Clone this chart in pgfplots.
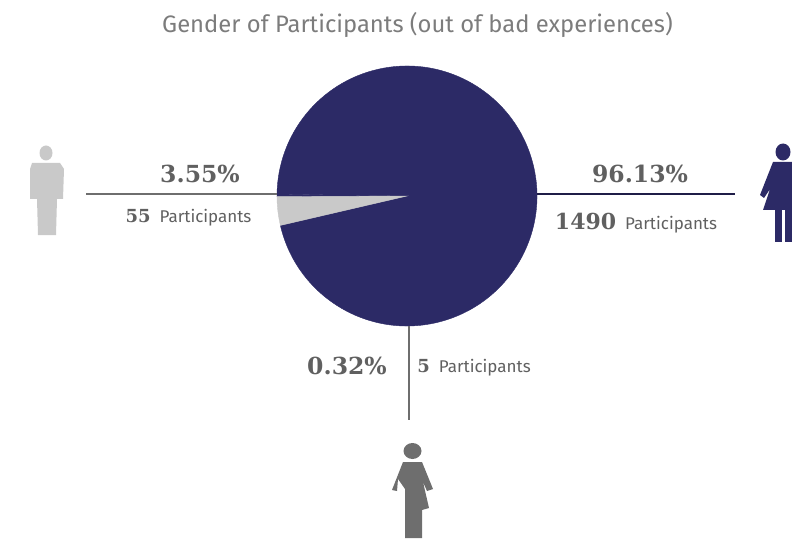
\documentclass[border=0pt]{standalone}
\usepackage{pgfplots}
\pgfplotsset{compat=1.18}
\usepackage{fontspec}
\setmainfont{Fira Sans}
\newfontfamily\numfont{DejaVu Serif}
\definecolor{navy}{HTML}{2C2A66}
\definecolor{lightgrey}{HTML}{C9C9C9}
\definecolor{midgrey}{HTML}{6E6E6E}
\definecolor{textgrey}{HTML}{606060}
\definecolor{titlegrey}{HTML}{7C7C7C}
\newcommand{\pct}[1]{{\fontsize{23.5}{23.5}\selectfont\numfont\bfseries #1}}
\newcommand{\cnt}[3]{{\fontsize{#1}{#1}\selectfont\numfont\bfseries #2}\hspace{9pt}{\fontsize{17}{17}\selectfont #3}}
% pie slice: start angle, share in percent, colour
\newcommand{\slice}[3]{%
  \path[fill=#3, draw=#3, line width=0.4pt] (axis cs:407,343) -- ++(#1:130pt) arc[start angle=#1, delta angle={3.6*#2}, radius=130pt] -- cycle;}
\begin{document}
\begin{tikzpicture}
\begin{axis}[
  width=792pt, height=539pt, scale only axis,
  xmin=0, xmax=792, ymin=0, ymax=539,
  hide axis, clip=false]
\path (axis cs:0,0) rectangle (axis cs:792,539);
% shares: 0.32 other, 96.13 women, 3.55 men
\slice{179.15}{0.32}{navy}
\slice{193.08}{96.13}{navy}
\slice{180.3}{3.55}{lightgrey}
% leader lines
\addplot[midgrey, line width=1.5pt] coordinates {(86,345) (277,345)};
\addplot[navy!70!black, line width=1.7pt] coordinates {(537,345) (735,345)};
\addplot[midgrey, line width=2pt] coordinates {(408.5,213) (408.5,119)};
% title and labels
\node[text=titlegrey, font=\fontsize{23.8}{23.8}\selectfont] at (axis cs:417.5,514) {Gender of Participants (out of bad experiences)};
\node[text=textgrey] at (axis cs:200,365) {\pct{3.55\%}};
\node[text=textgrey] at (axis cs:188.5,321) {\cnt{18}{55}{Participants}};
\node[text=textgrey] at (axis cs:640,365) {\pct{96.13\%}};
\node[text=textgrey] at (axis cs:636,316) {\cnt{22}{1490}{Participants}};
\node[text=textgrey] at (axis cs:347,173) {\pct{0.32\%}};
\node[text=textgrey] at (axis cs:474,171) {\cnt{18}{5}{Participants}};
% male figure
\fill[lightgrey] (axis cs:46,386) ellipse[x radius=6.5pt, y radius=7.5pt];
\fill[lightgrey] (axis cs:32,376) -- (axis cs:60,376) -- (axis cs:64,370) -- (axis cs:63,340) -- (axis cs:57,340) -- (axis cs:56,304) -- (axis cs:38,304) -- (axis cs:37,340) -- (axis cs:30,340) -- (axis cs:30,370) -- cycle;
% female figure
\fill[navy] (axis cs:783,387) ellipse[x radius=7.5pt, y radius=8.5pt];
\fill[navy] (axis cs:773,377) -- (axis cs:792,377) -- (axis cs:792,329) -- (axis cs:763,329) -- (axis cs:770,350) -- (axis cs:764,341) -- (axis cs:760,344) -- cycle;
\fill[navy] (axis cs:775,329) rectangle (axis cs:782,297);
\fill[navy] (axis cs:785,329) rectangle (axis cs:792,297);
% other figure
\fill[midgrey] (axis cs:412.5,88) ellipse[x radius=9pt, y radius=8pt];
\fill[midgrey] (axis cs:403,77) -- (axis cs:422,77) -- (axis cs:433,50) -- (axis cs:427,48) -- (axis cs:423,57) -- (axis cs:429,31) -- (axis cs:422,29) -- (axis cs:422,1) -- (axis cs:405,1) -- (axis cs:405,50) -- (axis cs:398,60) -- (axis cs:397,48) -- (axis cs:392,49) -- cycle;
\end{axis}
\end{tikzpicture}
\end{document}
